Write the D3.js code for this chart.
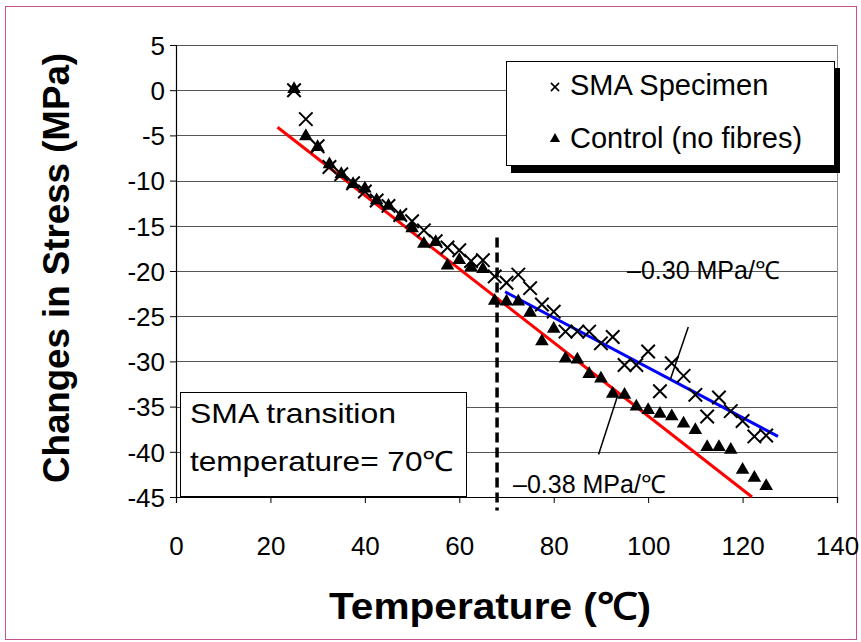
<!DOCTYPE html>
<html>
<head>
<meta charset="utf-8">
<script src="https://cdn.jsdelivr.net/npm/d3@7"></script>
<style>
  body { margin: 0; background: #fff; }
  text { font-family: "Liberation Sans", Arial, sans-serif; }
</style>
</head>
<body>
<div id="chart"></div>
<script>
// temperatures (deg C) shared by both series
const temps = [25, 27.5, 30, 32.5, 35, 37.5, 40, 42.5, 45, 47.5, 50, 52.5, 55, 57.5, 60,
  62.5, 65, 67.5, 70, 72.5, 75, 77.5, 80, 82.5, 85, 87.5, 90, 92.5, 95, 97.5, 100,
  102.5, 105, 107.5, 110, 112.5, 115, 117.5, 120, 122.5, 125];
// SMA specimen (x markers)
const smaStress = [0, -3.2, -6.2, -8.5, -9.3, -10.3, -11.2, -12.2, -12.8, -13.8, -14.5,
  -15.5, -16.7, -17.4, -17.7, -18.9, -18.8, -20.6, -21.3, -20.4, -21.9, -23.7, -24.5,
  -26.7, -26.7, -26.7, -28.0, -27.3, -30.4, -30.4, -28.9, -33.3, -30.2, -31.6, -33.7,
  -36.1, -34.0, -35.5, -36.6, -38.3, -38.2];
// control, no fibres (triangles)
const controlStress = [0, -5.2, -6.4, -8.3, -9.4, -10.5, -11.0, -12.3, -12.9, -14.1, -15.4,
  -17.1, -16.9, -19.5, -18.9, -19.7, -19.9, -23.4, -23.5, -23.5, -24.7, -27.9, -26.5,
  -29.8, -29.9, -31.5, -32.0, -33.7, -33.8, -35.1, -35.5, -35.9, -36.2, -37.0, -37.7,
  -39.6, -39.6, -39.9, -42.1, -43.0, -43.9];
// fitted lines, end points
const redFit = [[21.5, -4.1], [122, -45]];
const blueFit = [[69.7, -22.3], [127.5, -38.3]];
// annotation leader lines
const leader30 = [[108.5, -26.2], [104.7, -32]];
const leader38 = [[93.6, -33.7], [89.5, -40.3]];
const transitionT = 68;
const xTicks = [0, 20, 40, 60, 80, 100, 120, 140];
const yTicks = [5, 0, -5, -10, -15, -20, -25, -30, -35, -40, -45];

const W = 861, H = 642;
const svg = d3.select("#chart").append("svg").attr("width", W).attr("height", H);

// outer frame
svg.append("rect").attr("x", 5.5).attr("y", 6.5).attr("width", 851).attr("height", 633)
  .attr("fill", "#fff").attr("stroke", "#c4528c").attr("stroke-width", 1);

const x = d3.scaleLinear().domain([0, 140]).range([176, 837]);
const y = d3.scaleLinear().domain([-45, 5]).range([497, 45]);

// gridlines
svg.append("g").selectAll("line").data(yTicks).join("line")
  .attr("x1", x(0)).attr("x2", x(140))
  .attr("y1", d => Math.round(y(d)) + 0.5).attr("y2", d => Math.round(y(d)) + 0.5)
  .attr("stroke", "#555").attr("stroke-width", 1);
// right plot border
svg.append("line").attr("x1", x(140) + 0.5).attr("x2", x(140) + 0.5)
  .attr("y1", y(5)).attr("y2", y(-45)).attr("stroke", "#888");

// axes
const yAxis = svg.append("g").attr("transform", `translate(${x(0)},0)`)
  .call(d3.axisLeft(y).tickValues(yTicks).tickSize(6).tickPadding(5).tickFormat(d => String(d)));
const xAxis = svg.append("g").attr("transform", `translate(0,${y(-45)})`)
  .call(d3.axisBottom(x).tickValues(xTicks).tickSize(6).tickPadding(34).tickFormat(d => String(d)));
[xAxis, yAxis].forEach(a => {
  a.select(".domain").attr("stroke", "#000").attr("stroke-width", 1.2);
  a.selectAll(".tick line").attr("stroke", "#000");
  a.selectAll("text").attr("font-size", 26).attr("fill", "#000")
    .style("font-family", "'Liberation Sans', Arial, sans-serif");
});
yAxis.selectAll("text").attr("dy", "0.36em");

// axis titles
svg.append("text").attr("transform", "translate(69,268) rotate(-90)")
  .attr("text-anchor", "middle").attr("font-size", 37).attr("font-weight", "bold")
  .attr("textLength", 430).attr("lengthAdjust", "spacingAndGlyphs")
  .text("Changes in Stress (MPa)");
svg.append("text").attr("x", 490).attr("y", 619)
  .attr("text-anchor", "middle").attr("font-size", 37).attr("font-weight", "bold")
  .attr("textLength", 322).attr("lengthAdjust", "spacingAndGlyphs")
  .text("Temperature (℃)");

// transition line
svg.append("line").attr("x1", x(transitionT)).attr("x2", x(transitionT))
  .attr("y1", y(-16.3)).attr("y2", y(-46.5))
  .attr("stroke", "#000").attr("stroke-width", 3.5).attr("stroke-dasharray", "10,5");

// fit lines
const line = d3.line().x(d => x(d[0])).y(d => y(d[1]));
svg.append("path").attr("d", line(redFit)).attr("stroke", "#ff0000").attr("stroke-width", 3).attr("fill", "none");
svg.append("path").attr("d", line(blueFit)).attr("stroke", "#0000ff").attr("stroke-width", 3).attr("fill", "none");

// markers
const tri = d3.symbol().type(d3.symbolTriangle).size(80);
svg.append("g").selectAll("path").data(temps.map((t, i) => [t, controlStress[i]])).join("path")
  .attr("d", tri).attr("transform", d => `translate(${x(d[0])},${y(d[1]) - 1})`).attr("fill", "#000");
svg.append("g").selectAll("path").data(temps.map((t, i) => [t, smaStress[i]])).join("path")
  .attr("d", d3.symbol().type(d3.symbolX).size(120))
  .attr("transform", d => `translate(${x(d[0])},${y(d[1])})`)
  .attr("fill", "none").attr("stroke", "#000").attr("stroke-width", 2);

// leader lines + slope labels
[leader30, leader38].forEach(l => svg.append("path").attr("d", line(l))
  .attr("stroke", "#000").attr("stroke-width", 1.5).attr("fill", "none"));
svg.append("text").attr("x", 627).attr("y", 279).attr("font-size", 25).text("–0.30 MPa/℃");
svg.append("text").attr("x", 513).attr("y", 493).attr("font-size", 25).text("–0.38 MPa/℃");

// transition note box
svg.append("rect").attr("x", 180.5).attr("y", 392.5).attr("width", 286).attr("height", 104)
  .attr("fill", "#fff").attr("stroke", "#000").attr("stroke-width", 1);
svg.append("text").attr("x", 190).attr("y", 423).attr("font-size", 28)
  .attr("textLength", 206).attr("lengthAdjust", "spacingAndGlyphs").text("SMA transition");
svg.append("text").attr("x", 190).attr("y", 471).attr("font-size", 28)
  .attr("textLength", 264).attr("lengthAdjust", "spacingAndGlyphs").text("temperature= 70℃");

// legend with shadow
const lg = svg.append("g");
lg.append("rect").attr("x", 511).attr("y", 68).attr("width", 329).attr("height", 105).attr("fill", "#000");
lg.append("rect").attr("x", 506.5).attr("y", 61.5).attr("width", 328).attr("height", 104)
  .attr("fill", "#fff").attr("stroke", "#000").attr("stroke-width", 1);
lg.append("path").attr("d", d3.symbol().type(d3.symbolX).size(45))
  .attr("transform", "translate(555,87)").attr("stroke", "#000").attr("stroke-width", 1.6).attr("fill", "none");
lg.append("path").attr("d", d3.symbol().type(d3.symbolTriangle).size(45))
  .attr("transform", "translate(555,139)").attr("fill", "#000");
lg.append("text").attr("x", 570).attr("y", 95).attr("font-size", 29).text("SMA Specimen");
lg.append("text").attr("x", 570).attr("y", 148).attr("font-size", 29).text("Control (no fibres)");
</script>
</body>
</html>
